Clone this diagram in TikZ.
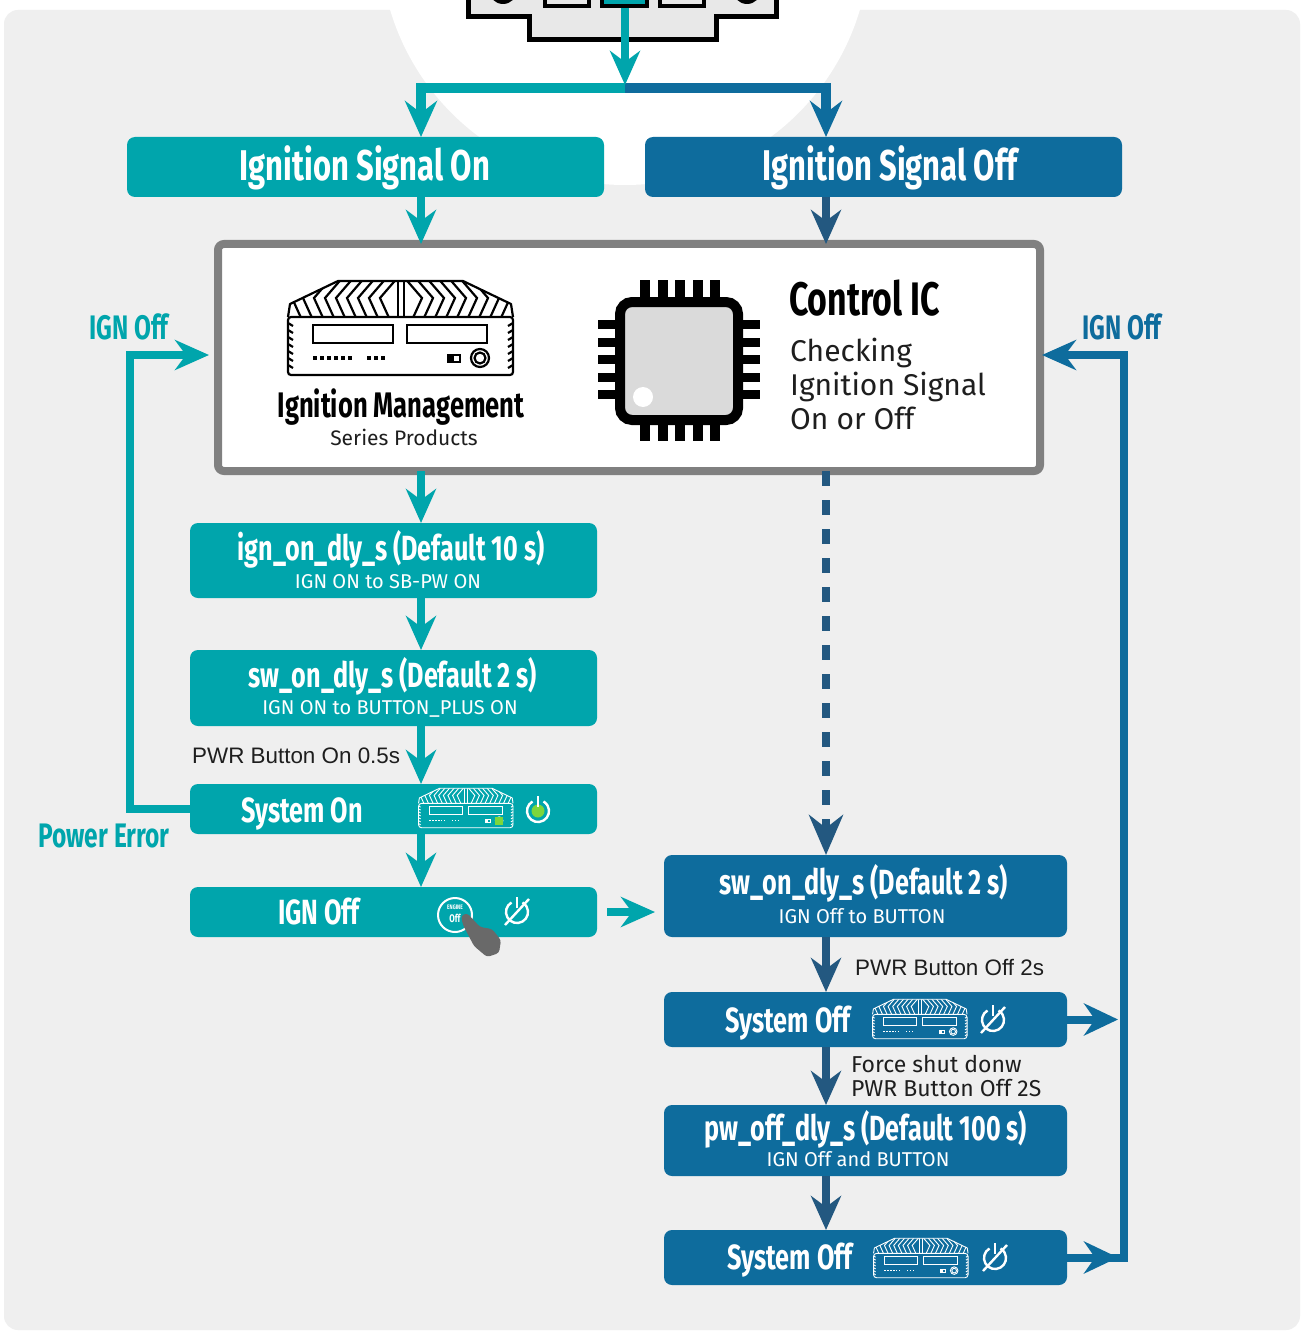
\documentclass[tikz,border=0pt]{standalone}
\usepackage{fontspec}
\setmainfont{Fira Sans}
\newfontfamily\cond[FakeStretch=0.72]{Fira Sans}
\newfontfamily\arialfont{Liberation Sans}
\usetikzlibrary{arrows.meta,calc}

\definecolor{igteal}{RGB}{0,165,172}
\definecolor{igblue}{RGB}{14,108,157}
\definecolor{navy}{RGB}{35,88,128}
\definecolor{bggray}{RGB}{239,239,239}
\definecolor{framegray}{RGB}{128,128,128}
\definecolor{chipgray}{RGB}{218,218,218}
\definecolor{pluggray}{RGB}{232,232,232}
\definecolor{handgray}{RGB}{105,105,105}
\definecolor{powgreen}{RGB}{124,214,60}
\definecolor{ink}{RGB}{30,30,30}

\tikzset{
  box/.style={rectangle, rounded corners=8pt, inner sep=0pt, outer sep=0pt, draw=none},
  tealbox/.style={box, fill=igteal},
  bluebox/.style={box, fill=igblue},
  ttl/.style={text=white, font=\cond\bfseries\fontsize{35}{35}\selectfont, anchor=base, inner sep=0pt},
  ttlbig/.style={ttl, font=\cond\bfseries\fontsize{43}{43}\selectfont},
  subttl/.style={text=white, font=\fontsize{20}{20}\selectfont, anchor=base, inner sep=0pt},
  sidelbl/.style={font=\cond\bfseries\fontsize{34}{34}\selectfont, anchor=base, inner sep=0pt},
  note/.style={text=ink, font=\arialfont\fontsize{22.4}{22.4}\selectfont, anchor=base west, inner sep=0pt},
  note2/.style={text=ink, font=\fontsize{23}{23}\selectfont, anchor=base west, inner sep=0pt},
  icline/.style={text=ink, font=\fontsize{30}{30}\selectfont, anchor=base west, inner sep=0pt},
  tarr/.style={draw=igteal, line width=8pt, -{Stealth[length=34pt, width=30pt, inset=11pt]}},
  narr/.style={draw=navy, line width=8pt, -{Stealth[length=34pt, width=30pt, inset=11pt]}},
  bline/.style={draw=igblue, line width=8pt},
  tline/.style={draw=igteal, line width=8pt},
  pics/device/.style={code={
    \begin{scope}
      \clip (-111,-24) -- (-63,-47) -- (62,-47) -- (110,-24) -- (112,-11) -- (-113,-11) -- cycle;
      \foreach \k in {0,...,8}{
        \draw ({-104+\k*11+14},-52) -- ({-104+\k*11-5},-30) -- ({-104+\k*11+5},-8);
        \draw ({104-\k*11-14},-52) -- ({104-\k*11+5},-30) -- ({104-\k*11-5},-8);
      }
      \draw (-3,-50) -- (-3,-8);
      \draw (3,-50) -- (3,-8);
    \end{scope}
    \draw[line join=round] (-113,-11) -- (-111,-24) -- (-63,-47) -- (62,-47) -- (110,-24) -- (112,-11);
    \draw[rounded corners=3pt] (-113,-11) rectangle (112,47);
    \foreach \yy in {-5,2,...,40}{
      \draw (-113,\yy) -- (-108,\yy+3);
      \draw (112,\yy) -- (107,\yy+3);
    }
    \draw (-88,-3) rectangle (-8,15);
    \draw (6,-3) rectangle (86,15);
    \foreach \xx in {-88,-81,...,-53}{ \fill (\xx,28) rectangle ++(4,4); }
    \foreach \xx in {-34,-27,-20}{ \fill (\xx,28) rectangle ++(4,4); }
    \draw (47,27) rectangle (59,34);
    \fill (47,27) rectangle (53,34);
    \draw (79,30) circle[radius=9pt];
    \draw (79,30) circle[radius=5.5pt];
  }},
  pics/pwr/.style={code={
    \draw[line width=2.4pt] (120:11pt) arc[start angle=120, end angle=420, radius=11pt];
    \draw[line width=2.4pt] (0,-15) -- (0,-4);
  }},
  pics/pwroff/.style={code={
    \draw[line width=2.4pt] (120:11pt) arc[start angle=120, end angle=420, radius=11pt];
    \draw[line width=2.4pt] (0,-15) -- (0,-4);
    \draw[line width=2.4pt] (-12,13) -- (12,-13);
  }}
}

\begin{document}
\begin{tikzpicture}[x=1pt,y=-1pt]
\useasboundingbox (0,0) rectangle (1303,1332);
\fill[white] (0,0) rectangle (1303,1332);
\fill[bggray, rounded corners=14pt] (4,10) rectangle (1300,1330);
\fill[white] (625,-60) circle[radius=245pt];

% ignition plug
\begin{scope}[line width=5pt]
  \filldraw[draw=black, fill=pluggray] (468,-20) -- (468,17) -- (529,17) -- (529,40) -- (716,40) -- (716,17) -- (776,17) -- (776,-20);
  \fill[black] (503,-10) circle[radius=14pt];
  \fill[black] (747,-10) circle[radius=14pt];
  \filldraw[draw=black, fill=pluggray, line width=4pt] (545,-20) rectangle (589,6);
  \filldraw[draw=black, fill=igteal, line width=4pt] (602,-20) rectangle (647,6);
  \filldraw[draw=black, fill=pluggray, line width=4pt] (660,-20) rectangle (704,6);
\end{scope}
\coordinate (pin) at (625,8);
\coordinate (split) at (625,88);
\coordinate (colA) at (421,0);
\coordinate (colB) at (826,0);
\coordinate (loopL) at (130,355);
\coordinate (loopR) at (1124,355);

% boxes
\node[tealbox, minimum width=477pt, minimum height=60pt] (sigOn) at (365.5,167) {};
\node[bluebox, minimum width=477pt, minimum height=60pt] (sigOff) at (883.5,167) {};
\node[draw=framegray, fill=white, line width=8pt, rounded corners=6pt, minimum width=822pt, minimum height=227pt, inner sep=0pt, outer sep=0pt] (ctrl) at (629,357.5) {};
\node[tealbox, minimum width=407pt, minimum height=75pt] (boxA) at (393.5,560.5) {};
\node[tealbox, minimum width=407pt, minimum height=76pt] (boxB) at (393.5,688) {};
\node[tealbox, minimum width=407pt, minimum height=50pt] (boxC) at (393.5,809) {};
\node[tealbox, minimum width=407pt, minimum height=50pt] (boxD) at (393.5,912) {};
\node[bluebox, minimum width=403pt, minimum height=82pt] (boxE) at (865.5,896) {};
\node[bluebox, minimum width=403pt, minimum height=55pt] (boxF) at (865.5,1019.5) {};
\node[bluebox, minimum width=403pt, minimum height=71pt] (boxG) at (865.5,1140.5) {};
\node[bluebox, minimum width=403pt, minimum height=55pt] (boxH) at (865.5,1257.5) {};

% split from the plug
\draw[line width=10pt, igteal, -{Stealth[length=36pt, width=32pt, inset=12pt]}] (split) -| (sigOn.north -| colA);
\draw[line width=10pt, igblue, -{Stealth[length=36pt, width=32pt, inset=12pt]}] (split) -| (sigOff.north -| colB);
\draw[line width=8pt, igteal, shorten >=3pt, -{Stealth[length=34pt, width=30pt, inset=11pt]}] (pin) -- (split);

% main flow
\draw[tarr] (sigOn.south -| colA) -- (ctrl.north -| colA);
\draw[narr] (sigOff.south -| colB) -- (ctrl.north -| colB);
\draw[tarr] (ctrl.south -| colA) -- (boxA.north -| colA);
\draw[tarr] (boxA.south -| colA) -- (boxB.north -| colA);
\draw[tarr] (boxB.south -| colA) -- (boxC.north -| colA);
\draw[tarr] (boxC.south -| colA) -- (boxD.north -| colA);
\draw[tarr, shorten <=10pt, shorten >=9pt] (boxD.east) -- (boxE.west |- boxD.east);
\draw[navy, line width=8pt, dash pattern=on 15pt off 14pt, -{Stealth[length=40pt, width=34pt, inset=13pt]}] (ctrl.south -| colB) -- (boxE.north -| colB);
\draw[narr] (boxE.south -| colB) -- (boxF.north -| colB);
\draw[narr] (boxF.south -| colB) -- (boxG.north -| colB);
\draw[narr] (boxG.south -| colB) -- (boxH.north -| colB);

% feedback loops
\draw[tline, shorten >=9pt, -{Stealth[length=34pt, width=30pt, inset=11pt]}] (boxC.west) -| (loopL) -- (ctrl.west |- loopL);
\draw[bline, shorten >=2pt, -{Stealth[length=34pt, width=30pt, inset=11pt]}] (boxH.east) -| (loopR) -- (ctrl.east |- loopR);
\draw[bline, shorten >=6pt, -{Stealth[length=34pt, width=32pt, inset=11pt]}] (boxH.east) -- (loopR |- boxH.east);
\draw[bline, shorten >=6pt, -{Stealth[length=34pt, width=32pt, inset=11pt]}] (boxF.east) -- (loopR |- boxF.east);

% box titles
\node[ttlbig] (tOn) at (365,181) {Ignition Signal On};
\node[ttlbig] (tOff) at (890,181) {Ignition Signal Off};
\node[ttl] (tA) at (391,560) {ign\_on\_dly\_s (Default 10 s)};
\node[subttl] (sA) at (388,588) {IGN ON to SB-PW ON};
\node[ttl] (tB) at (393,687) {sw\_on\_dly\_s (Default 2 s)};
\node[subttl] (sB) at (390,714) {IGN ON to BUTTON\_PLUS ON};
\node[ttl] (tC) at (302,822) {System On};
\node[ttl] (tD) at (319,924) {IGN Off};
\node[ttl] (tE) at (864,894) {sw\_on\_dly\_s (Default 2 s)};
\node[subttl] (sE) at (862,923) {IGN Off to BUTTON};
\node[ttl] (tF) at (788,1032) {System Off};
\node[ttl] (tG) at (866,1140) {pw\_off\_dly\_s (Default 100 s)};
\node[subttl] (sG) at (858,1166) {IGN Off and BUTTON};
\node[ttl] (tH) at (790,1269) {System Off};

% side labels and notes
\node[sidelbl, text=igteal] (lIgnL) at (129,339) {IGN Off};
\node[sidelbl, text=igteal] (lErr) at (104,847) {Power Error};
\node[sidelbl, text=igblue] (lIgnR) at (1122,339) {IGN Off};
\node[note] (nOn) at (192,763) {PWR Button On 0.5s};
\node[note] (nOff) at (855,975) {PWR Button Off 2s};
\node[note2] (nForce1) at (851,1072) {Force shut donw};
\node[note2] (nForce2) at (851,1096) {PWR Button Off 2S};

% main box content: product
\pic[color=black, line width=2.2pt] (devBig) at (401,328) {device};
\node[font=\cond\bfseries\fontsize{35.5}{35.5}\selectfont, text=black, anchor=base, inner sep=0pt] (tMgmt) at (401,417) {Ignition Management};
\node[font=\fontsize{21}{21}\selectfont, text=ink, anchor=base, inner sep=0pt] (tSeries) at (404,445) {Series Products};

% main box content: control chip
\foreach \i in {0,...,4}{
  \fill[black] (640+\i*17.5,280) rectangle ++(10,22);
  \fill[black] (640+\i*17.5,420) rectangle ++(10,21);
  \fill[black] (598,320+\i*17.5) rectangle ++(22,9);
  \fill[black] (738,320+\i*17.5) rectangle ++(22,9);
}
\filldraw[fill=chipgray, draw=black, line width=10pt, rounded corners=12pt] (620,302) rectangle (738,420);
\fill[white] (643,397) circle[radius=10pt];
\node[font=\cond\bfseries\fontsize{47}{47}\selectfont, text=black, anchor=base west, inner sep=0pt] (tIC) at (789,315) {Control IC};
\node[icline] (ic1) at (790,361) {Checking};
\node[icline] (ic2) at (790,395) {Ignition Signal};
\node[icline] (ic3) at (790,429) {On or Off};

% state icons
\pic[color=white, line width=0.9pt, scale=0.42] (devOn) at (466,808) {device};
\fill[powgreen] (495,817) rectangle (503,825);
\fill[powgreen] (538,811) circle[radius=6.5pt];
\pic[color=white] (pwOn) at (538,811) {pwr};

\draw[white, line width=2pt] (455,915) circle[radius=17pt];
\node[text=white, font=\cond\bfseries\fontsize{6.5}{6.5}\selectfont, inner sep=0pt] (eng1) at (455,907) {ENGINE};
\node[text=white, font=\cond\bfseries\fontsize{11}{11}\selectfont, inner sep=0pt] (eng2) at (455,918) {Off};
\fill[handgray, rounded corners=3pt] (461,916) -- (467,913) -- (480,927) -- (492,929) -- (501,940) -- (499,953) -- (487,957) -- (474,946) -- (463,925) -- cycle;
\pic[color=white] (pwD) at (517,912) {pwroff};

\pic[color=white, line width=0.9pt, scale=0.42] (devF) at (920,1019) {device};
\pic[color=white] (pwF) at (993,1020) {pwroff};
\pic[color=white, line width=0.9pt, scale=0.42] (devH) at (921,1258) {device};
\pic[color=white] (pwH) at (995,1258) {pwroff};
\end{tikzpicture}
\end{document}
